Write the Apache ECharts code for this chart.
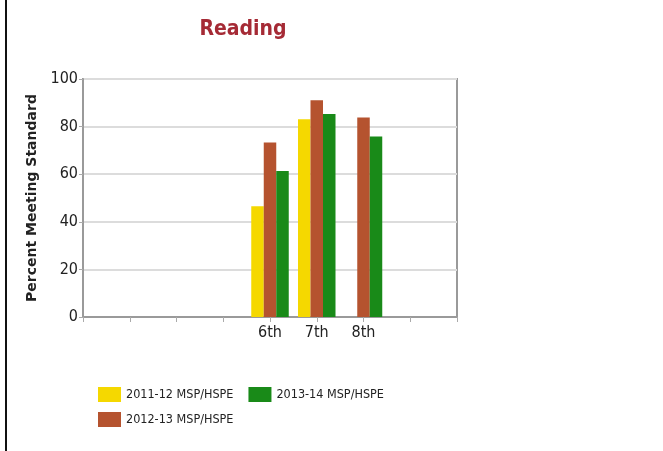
<!DOCTYPE html>
<html>
<head>
<meta charset="utf-8">
<script src="https://cdn.jsdelivr.net/npm/echarts@6/dist/echarts.min.js"></script>
<style>
  html, body { margin: 0; padding: 0; background: #fff; }
  #main { width: 663px; height: 451px; }
</style>
</head>
<body>
<div id="main"></div>
<script>
// grade slots on the axis, only 6th-8th carry data
const grades = ['', '', '', '', '6th', '7th', '8th', '', ''];
const yTicks = [0, 20, 40, 60, 80, 100];
const seriesNames = ['2011-12 MSP/HSPE', '2012-13 MSP/HSPE', '2013-14 MSP/HSPE'];
const y2011 = ['-', '-', '-', '-', 46.5, 83.1, '-', '-', '-'];
const y2012 = ['-', '-', '-', '-', 73.3, 91.1, 83.8, '-', '-'];
const y2013 = ['-', '-', '-', '-', 61.3, 85.3, 75.8, '-', '-'];
const colors = ['#f5d800', '#b5532f', '#198a18'];

const narrow = '"DejaVu Sans Condensed", "Liberation Sans Narrow", sans-serif';

let myChart = echarts.init(document.getElementById('main'));

const bar = (name, data, color) => ({
    name: name,
    type: 'bar',
    data: data,
    barWidth: 12.5,
    barGap: '0%',
    itemStyle: { color: color }
});

let option = {
    animation: false,
    title: {
        text: 'Reading',
        left: 238,
        textAlign: 'center',
        top: 14,
        textStyle: {
            fontFamily: narrow,
            fontSize: 21,
            fontWeight: 'bold',
            color: '#a52a35'
        }
    },
    grid: {
        left: 83,
        right: 206,
        top: 79,
        bottom: 134,
        show: true,
        borderColor: '#9a9a9a',
        borderWidth: 2
    },
    legend: [
        {
            left: 93,
            top: 382,
            data: [seriesNames[0], seriesNames[2]],
            icon: 'rect',
            itemWidth: 23,
            itemHeight: 15,
            itemGap: 15,
            textStyle: { fontFamily: narrow, fontSize: 12.5, color: '#222' }
        },
        {
            left: 93,
            top: 407,
            data: [seriesNames[1]],
            icon: 'rect',
            itemWidth: 23,
            itemHeight: 15,
            textStyle: { fontFamily: narrow, fontSize: 12.5, color: '#222' }
        }
    ],
    xAxis: {
        type: 'category',
        data: grades,
        boundaryGap: false,
        axisLine: { lineStyle: { color: '#9a9a9a', width: 2 } },
        axisTick: { show: true, interval: 0, length: 5, lineStyle: { color: '#aaa' } },
        axisLabel: {
            interval: 0,
            margin: 8,
            fontFamily: narrow,
            fontSize: 16,
            color: '#222'
        }
    },
    yAxis: {
        type: 'value',
        min: yTicks[0],
        max: yTicks[yTicks.length - 1],
        interval: 20,
        name: 'Percent Meeting Standard',
        nameLocation: 'middle',
        nameRotate: 90,
        nameGap: 40,
        nameTextStyle: {
            fontFamily: '"DejaVu Sans", sans-serif',
            fontWeight: 'bold',
            fontSize: 14,
            color: '#222'
        },
        axisLine: { show: true, lineStyle: { color: '#9a9a9a', width: 2 } },
        axisTick: { show: true, length: 4, lineStyle: { color: '#aaa' } },
        splitLine: { lineStyle: { color: '#dcdcdc', width: 2 } },
        axisLabel: {
            margin: 5,
            fontFamily: narrow,
            fontSize: 16,
            color: '#222'
        }
    },
    graphic: [
        {
            type: 'line',
            shape: { x1: 6, y1: 0, x2: 6, y2: 451 },
            style: { stroke: '#111', lineWidth: 2 }
        }
    ],
    series: [
        bar(seriesNames[0], y2011, colors[0]),
        bar(seriesNames[1], y2012, colors[1]),
        bar(seriesNames[2], y2013, colors[2])
    ]
};
myChart.setOption(option);
</script>
</body>
</html>
